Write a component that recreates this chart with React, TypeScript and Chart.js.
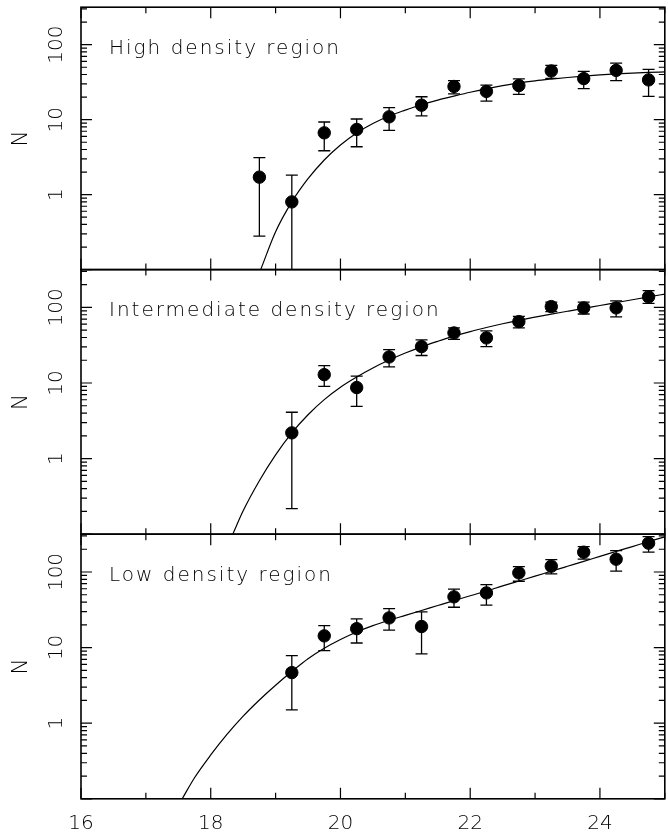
import React, { useEffect, useRef } from 'react';
import { Chart, registerables } from 'chart.js';

Chart.register(...registerables);

// ---------- data ----------
const X_MIN = 16;
const X_MAX = 25;
const Y_MIN = 0.1;
const Y_MAX = 316.23;

const X_TICK_LABELS = [16, 18, 20, 22, 24];
const Y_TICK_LABELS = [1, 10, 100];
const Y_TITLE = 'N';

const TITLES = ['High density region', 'Intermediate density region', 'Low density region'];

// High density region
const HIGH_X = [18.75, 19.25, 19.75, 20.25, 20.75, 21.25, 21.75, 22.25, 22.75, 23.25, 23.75, 24.25, 24.75];
const HIGH_N = [1.71, 0.8, 6.67, 7.4, 10.9, 15.6, 27.7, 23.8, 28.5, 44.6, 35.3, 45.4, 33.9];
const HIGH_HI = [3.11, 1.82, 9.3, 10.2, 14.5, 20.2, 33.2, 28.8, 34.9, 52.9, 44.0, 56.9, 46.9];
const HIGH_LO = [0.28, 0, 3.85, 4.35, 7.2, 11.2, 22.1, 17.7, 21.7, 35.6, 26.0, 33.2, 20.4];
const HIGH_FIT_X = [18.77, 19.0, 19.25, 19.5, 19.75, 20.0, 20.25, 20.5, 20.75, 21.0, 21.25, 21.5, 21.75, 22.0, 22.25, 22.5, 22.75, 23.0, 23.25, 23.5, 23.75, 24.0, 24.25, 24.5, 24.75, 25.0];
const HIGH_FIT_Y = [0.1, 0.32, 0.8, 1.63, 2.9, 4.6, 6.65, 8.87, 11.2, 13.4, 15.8, 18.2, 20.6, 23.2, 25.8, 28.4, 30.9, 33.0, 34.8, 36.5, 38.1, 39.5, 40.7, 41.7, 42.6, 43.3];

// Intermediate density region
const MID_X = [19.25, 19.75, 20.25, 20.75, 21.25, 21.75, 22.25, 22.75, 23.25, 23.75, 24.25, 24.75];
const MID_N = [2.19, 12.9, 8.7, 22.1, 30.3, 45.9, 39.5, 64.9, 102.5, 98.5, 98.5, 137.7];
const MID_HI = [4.1, 17.0, 12.3, 27.7, 37.3, 53.5, 48.8, 76.3, 117.7, 117.7, 122.0, 166.8];
const MID_LO = [0.218, 9.0, 4.92, 16.3, 23.1, 37.8, 30.3, 53.5, 88.0, 81.8, 74.9, 113.0];
const MID_FIT_X = [18.34, 18.5, 18.75, 19.0, 19.25, 19.5, 19.75, 20.0, 20.25, 20.5, 20.75, 21.0, 21.25, 21.5, 21.75, 22.0, 22.25, 22.5, 22.75, 23.0, 23.25, 23.5, 23.75, 24.0, 24.25, 24.5, 24.75, 25.0];
const MID_FIT_Y = [0.1, 0.204, 0.51, 1.12, 2.19, 3.8, 6.03, 8.8, 12.0, 15.8, 20.1, 24.9, 30.1, 35.6, 41.7, 47.9, 54.2, 60.8, 67.5, 74.3, 81.5, 88.9, 97.0, 105.9, 115.6, 126.2, 137.7, 150.0];

// Low density region
const LOW_X = [19.25, 19.75, 20.25, 20.75, 21.25, 21.75, 22.25, 22.75, 23.25, 23.75, 24.25, 24.75];
const LOW_N = [4.67, 14.3, 17.8, 24.7, 19.0, 46.9, 52.9, 97.3, 119.4, 182.8, 147.6, 240.5];
const LOW_HI = [7.84, 19.5, 24.0, 32.8, 29.7, 59.2, 68.1, 117.8, 146.0, 216.8, 192.0, 294.0];
const LOW_LO = [1.5, 9.1, 11.5, 17.0, 8.26, 34.2, 36.4, 75.5, 94.4, 147.6, 102.5, 182.8];
const LOW_FIT_X = [17.56, 17.75, 18.0, 18.25, 18.5, 18.75, 19.0, 19.25, 19.5, 19.75, 20.0, 20.25, 20.5, 20.75, 21.0, 21.25, 21.5, 21.75, 22.0, 22.25, 22.5, 22.75, 23.0, 23.25, 23.5, 23.75, 24.0, 24.25, 24.5, 24.75, 25.0];
const LOW_FIT_Y = [0.1, 0.19, 0.38, 0.71, 1.24, 2.03, 3.18, 4.82, 7.13, 9.8, 12.8, 16.1, 19.5, 23.0, 26.7, 31.0, 36.0, 41.8, 48.5, 56.0, 65.5, 76.0, 88.0, 102.5, 119.0, 138.0, 161.0, 187.0, 217.0, 252.0, 292.0];

// ---------- layout ----------
const CANVAS_W = 672;
const CANVAS_H = 836;
const AREA_LEFT = 81;
const AREA_RIGHT = 670.4;
const PANEL_TOPS = [5, 269.6, 534.2];
const PANEL_H = 264.6;
const FONT = '"DejaVu Sans", sans-serif';
const TEXT_WEIGHT = '200';

type PanelDef = {
  title: string;
  x: number[]; n: number[]; hi: number[]; lo: number[];
  fx: number[]; fy: number[];
  top: number;
  showX: boolean;
};

const PANELS: PanelDef[] = [
  { title: TITLES[0], x: HIGH_X, n: HIGH_N, hi: HIGH_HI, lo: HIGH_LO, fx: HIGH_FIT_X, fy: HIGH_FIT_Y, top: PANEL_TOPS[0], showX: false },
  { title: TITLES[1], x: MID_X, n: MID_N, hi: MID_HI, lo: MID_LO, fx: MID_FIT_X, fy: MID_FIT_Y, top: PANEL_TOPS[1], showX: false },
  { title: TITLES[2], x: LOW_X, n: LOW_N, hi: LOW_HI, lo: LOW_LO, fx: LOW_FIT_X, fy: LOW_FIT_Y, top: PANEL_TOPS[2], showX: true },
];

function makePlugin(p: PanelDef) {
  return {
    id: 'framePanel',
    beforeDatasetsDraw(chart: any) {
      const ctx = chart.ctx;
      const xs = chart.scales.x;
      const ys = chart.scales.y;
      const { left, right, top, bottom } = chart.chartArea;
      ctx.save();
      ctx.beginPath();
      ctx.rect(left, top, right - left, bottom - top);
      ctx.clip();
      ctx.strokeStyle = '#000';
      ctx.lineWidth = 1.3;
      const cap = 6;
      for (let i = 0; i < p.x.length; i++) {
        const px = xs.getPixelForValue(p.x[i]);
        const yh = ys.getPixelForValue(p.hi[i]);
        const hasLo = p.lo[i] > 0;
        const yl = hasLo ? ys.getPixelForValue(p.lo[i]) : bottom + 10;
        ctx.beginPath();
        ctx.moveTo(px, yh);
        ctx.lineTo(px, yl);
        ctx.moveTo(px - cap, yh);
        ctx.lineTo(px + cap, yh);
        if (hasLo) {
          ctx.moveTo(px - cap, yl);
          ctx.lineTo(px + cap, yl);
        }
        ctx.stroke();
      }
      ctx.restore();
    },
    afterDraw(chart: any) {
      const ctx = chart.ctx;
      const xs = chart.scales.x;
      const ys = chart.scales.y;
      const { left, right, top, bottom } = chart.chartArea;
      ctx.save();
      ctx.strokeStyle = '#000';
      // ticks
      ctx.lineWidth = 1.2;
      ctx.beginPath();
      for (let v = X_MIN; v <= X_MAX; v++) {
        const px = xs.getPixelForValue(v);
        const len = v % 2 === 0 ? 11 : 6;
        ctx.moveTo(px, bottom);
        ctx.lineTo(px, bottom - len);
        ctx.moveTo(px, top);
        ctx.lineTo(px, top + len);
      }
      for (let d = -1; d <= 2; d++) {
        for (let k = 1; k <= 9; k++) {
          const v = k * Math.pow(10, d);
          if (v < Y_MIN * 0.999 || v > Y_MAX) continue;
          const py = ys.getPixelForValue(v);
          const len = k === 1 ? 11 : 6;
          ctx.moveTo(left, py);
          ctx.lineTo(left + len, py);
          ctx.moveTo(right, py);
          ctx.lineTo(right - len, py);
        }
      }
      ctx.stroke();
      // frame
      ctx.lineWidth = 1.6;
      ctx.strokeRect(left, top, right - left, bottom - top);

      ctx.fillStyle = '#000';
      // y tick labels (rotated)
      ctx.font = `${TEXT_WEIGHT} 20px ${FONT}`;
      ctx.textAlign = 'center';
      ctx.textBaseline = 'alphabetic';
      for (const v of Y_TICK_LABELS) {
        const py = ys.getPixelForValue(v);
        ctx.save();
        ctx.translate(61.5, py);
        ctx.rotate(-Math.PI / 2);
        ctx.fillText(String(v), 0, 0);
        ctx.restore();
      }
      // y title
      ctx.save();
      ctx.font = `${TEXT_WEIGHT} 22px ${FONT}`;
      ctx.translate(26.5, (top + bottom) / 2);
      ctx.rotate(-Math.PI / 2);
      ctx.fillText(Y_TITLE, 0, 0);
      ctx.restore();
      // panel title
      ctx.save();
      ctx.font = `${TEXT_WEIGHT} 20px ${FONT}`;
      ctx.textAlign = 'left';
      (ctx as any).letterSpacing = '2px';
      ctx.fillText(p.title, 109, top + 46.5);
      ctx.restore();
      // x tick labels
      if (p.showX) {
        ctx.font = `${TEXT_WEIGHT} 20px ${FONT}`;
        ctx.textAlign = 'center';
        for (const v of X_TICK_LABELS) {
          const px = xs.getPixelForValue(v);
          ctx.fillText(String(v), px, 829);
        }
      }
      ctx.restore();
    },
  };
}

function Panel({ def }: { def: PanelDef }) {
  const ref = useRef<HTMLCanvasElement | null>(null);
  useEffect(() => {
    if (!ref.current) return;
    const pts = def.x.map((x, i) => ({ x, y: def.n[i] }));
    const fit = def.fx.map((x, i) => ({ x, y: def.fy[i] }));
    const chart = new Chart(ref.current, {
      type: 'scatter',
      data: {
        datasets: [
          {
            data: pts,
            showLine: false,
            pointRadius: 6.2,
            pointBorderWidth: 1,
            pointBackgroundColor: '#000',
            pointBorderColor: '#000',
          },
          {
            data: fit,
            showLine: true,
            pointRadius: 0,
            borderColor: '#000',
            borderWidth: 1.2,
            cubicInterpolationMode: 'monotone',
          },
        ],
      },
      options: {
        animation: false,
        responsive: false,
        devicePixelRatio: 1,
        layout: {
          padding: {
            left: AREA_LEFT,
            right: CANVAS_W - AREA_RIGHT,
            top: def.top,
            bottom: CANVAS_H - (def.top + PANEL_H),
          },
        },
        scales: {
          x: { type: 'linear', min: X_MIN, max: X_MAX, display: false },
          y: { type: 'logarithmic', min: Y_MIN, max: Y_MAX, display: false },
        },
        plugins: {
          legend: { display: false },
          tooltip: { enabled: false },
        },
      },
      plugins: [makePlugin(def)],
    } as any);
    return () => chart.destroy();
  }, []);
  return (
    <canvas
      ref={ref}
      width={CANVAS_W}
      height={CANVAS_H}
      style={{ position: 'absolute', left: 0, top: 0, width: CANVAS_W, height: CANVAS_H }}
    />
  );
}

export default function App() {
  return (
    <div
      style={{
        position: 'fixed',
        left: 0,
        top: 0,
        width: 668,
        height: 836,
        overflow: 'hidden',
        background: '#fff',
      }}
    >
      {PANELS.map((p, i) => (
        <Panel key={i} def={p} />
      ))}
    </div>
  );
}
